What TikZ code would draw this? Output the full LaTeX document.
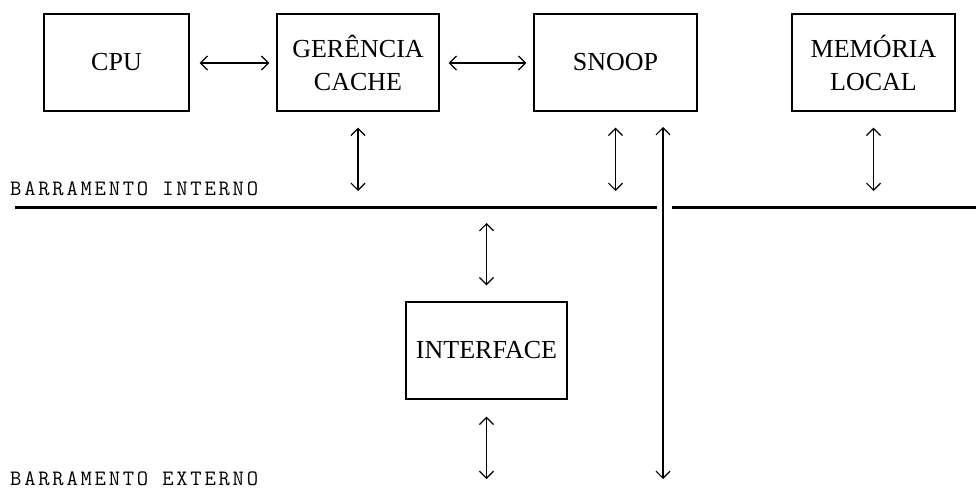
\documentclass[tikz,border=0pt]{standalone}
\usepackage{fontspec}
\setmainfont{Liberation Serif}
\newfontfamily\busfont[LetterSpace=12.5]{Latin Modern Mono}
\usetikzlibrary{arrows.meta}
\begin{document}
\begin{tikzpicture}[x=1pt,y=-1pt,
  unit/.style={draw,line width=1.4pt,minimum width=162pt,minimum height=97pt,
    inner sep=0pt,align=center,font=\fontsize{26}{33}\selectfont},
  link/.style={line width=1.2pt,{Straight Barb[length=7pt,width=14pt]}-{Straight Barb[length=7pt,width=14pt]}},
  bus/.style={line width=3pt},
  buslabel/.style={anchor=base west,inner sep=0pt,font=\busfont\fontsize{22}{26}\selectfont}]
\useasboundingbox (0,0) rectangle (976,493);

% processing units on the internal bus
\node[unit,minimum width=145pt] (cpu)   at (116.5,62.5) {CPU};
\node[unit]                     (ger)   at (358,62.5)   {GERÊNCIA\\CACHE};
\node[unit,minimum width=163pt] (snoop) at (615.5,62.5) {SNOOP};
\node[unit,minimum width=163pt] (mem)   at (873.5,62.5) {MEMÓRIA\\LOCAL};
\node[unit,minimum width=161pt] (intf)  at (486.5,350.5) {INTERFACE};

% internal bus, broken where the snoop line passes
\coordinate (busA) at (15,207);
\coordinate (busB) at (657,207);
\coordinate (busC) at (672,207);
\coordinate (busD) at (976,207);
\draw[bus] (busA) -- (busB);
\draw[bus] (busC) -- (busD);
\node[buslabel] (lint) at (10,195) {BARRAMENTO INTERNO};
\node[buslabel] (lext) at (10,485) {BARRAMENTO EXTERNO};

% horizontal links
\draw[link,shorten <=10pt,shorten >=7pt] (cpu.east |- 0,63) -- (ger.west |- 0,63);
\draw[link,shorten <=9pt,shorten >=7pt] (ger.east |- 0,63) -- (snoop.west |- 0,63);

% vertical links to the internal bus
\draw[link,shorten <=16pt,shorten >=16pt] (ger.south) -- (ger.south |- busA);
\draw[link,shorten <=16pt,shorten >=16pt] (snoop.south) -- (snoop.south |- busA);
\draw[link,shorten <=16pt,shorten >=16pt] (mem.south) -- (mem.south |- busA);
\draw[link,shorten <=16pt,shorten >=16pt] (intf.north |- busA) -- (intf.north);

% interface to the external bus
\coordinate (extI) at (486.5,479);
\draw[link,shorten <=17pt] (intf.south) -- (extI);

% snoop line crossing both buses
\coordinate (snTop) at (663,127);
\coordinate (snBot) at (663,479);
\draw[link] (snTop) -- (snBot);
\end{tikzpicture}
\end{document}
